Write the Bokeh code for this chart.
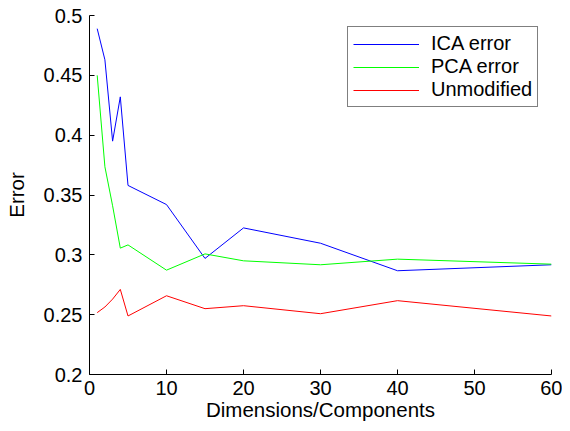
from bokeh.plotting import figure
from bokeh.models import Range1d, FixedTicker, NumeralTickFormatter
from bokeh.embed import file_html
from bokeh.resources import INLINE

dims = [1, 2, 3, 4, 5, 10, 15, 20, 30, 40, 60]
ica_error = [0.489, 0.463, 0.395, 0.432, 0.358, 0.342, 0.297, 0.3225, 0.3097, 0.2867, 0.2917]
pca_error = [0.450, 0.3736, 0.341, 0.3056, 0.3083, 0.2872, 0.3008, 0.2950, 0.2917, 0.2964, 0.2922]
unmodified = [0.2517, 0.2564, 0.263, 0.2711, 0.2489, 0.2658, 0.2550, 0.2575, 0.2508, 0.2617, 0.2489]

x_ticks = [0, 10, 20, 30, 40, 50, 60]
y_ticks = [0.2, 0.25, 0.3, 0.35, 0.4, 0.45, 0.5]

FONT = "Liberation Sans"

p = figure(width=562, height=423, output_backend="svg", toolbar_location=None,
           x_range=Range1d(0, 60), y_range=Range1d(0.2, 0.5),
           min_border_left=89, min_border_right=11, min_border_top=15, min_border_bottom=48)
p.outline_line_color = None
p.xgrid.visible = False
p.ygrid.visible = False
p.background_fill_color = "white"
p.border_fill_color = "white"

p.line(dims, ica_error, line_color="#0000ff", line_width=1, legend_label="ICA error")
p.line(dims, pca_error, line_color="#00ff00", line_width=1, legend_label="PCA error")
p.line(dims, unmodified, line_color="#ff0000", line_width=1, legend_label="Unmodified")

for ax in (p.xaxis[0], p.yaxis[0]):
    ax.axis_line_color = "black"
    ax.major_tick_line_color = "black"
    ax.major_tick_in = 5
    ax.major_tick_out = 0
    ax.minor_tick_line_color = None
    ax.major_label_text_font = FONT
    ax.major_label_text_font_size = "20px"
    ax.major_label_text_color = "black"
    ax.axis_label_text_font = FONT
    ax.axis_label_text_font_size = "20.5px"
    ax.axis_label_text_font_style = "normal"
    ax.axis_label_text_color = "black"

p.xaxis.ticker = FixedTicker(ticks=x_ticks)
p.yaxis.ticker = FixedTicker(ticks=y_ticks)
p.yaxis.formatter = NumeralTickFormatter(format="0.[00]")
p.xaxis.axis_label = "Dimensions/Components"
p.yaxis.axis_label = "Error"
p.xaxis.major_label_standoff = 6
p.yaxis.major_label_standoff = 7
p.xaxis.axis_label_standoff = 0
p.yaxis.axis_label_standoff = 13

legend = p.legend[0]
legend.location = (258, 267)
legend.border_line_color = "black"
legend.border_line_width = 1
legend.background_fill_alpha = 1
legend.padding = 5
legend.spacing = 0
legend.glyph_width = 66
legend.glyph_height = 20
legend.label_height = 20
legend.label_standoff = 12
legend.label_text_font = FONT
legend.label_text_font_size = "20px"
legend.label_text_color = "black"
legend.margin = 0

open("out.html", "w").write(file_html(p, INLINE))
